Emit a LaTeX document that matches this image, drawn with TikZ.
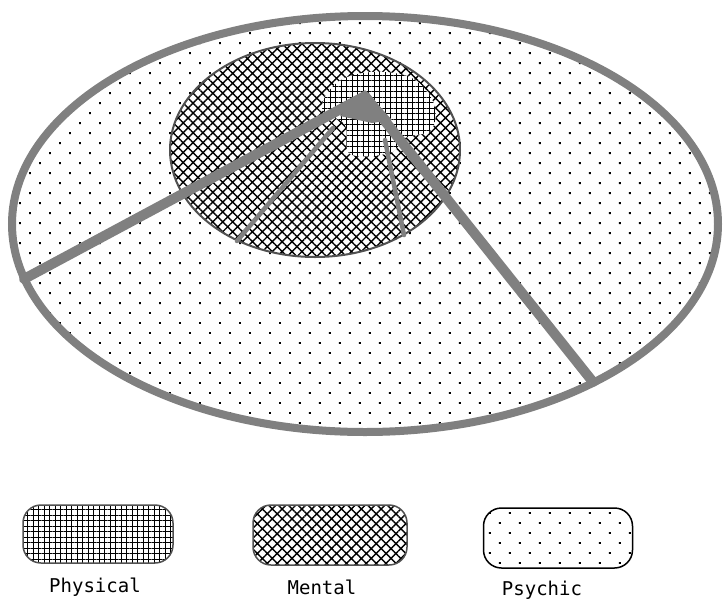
\documentclass[tikz,border=0pt]{standalone}
\usepackage{fontspec}
\newfontfamily\lblfont{DejaVu Sans Mono}
\usetikzlibrary{patterns.meta}
\definecolor{lg}{RGB}{128,128,128}
\definecolor{dg}{RGB}{80,80,80}
\tikzset{
  psychicfill/.style={pattern={Dots[distance=14.14pt,angle=45,radius=1.35pt]},pattern color=black},
  mentalfill/.style={pattern={Hatch[angle=45,distance=7pt,line width=1.4pt]},pattern color=black},
  physfill/.style={pattern={Hatch[angle=0,distance=5.5pt,line width=0.9pt]},pattern color=black},
  thickline/.style={draw=lg,line width=10pt,line cap=round},
  thinline/.style={draw=lg,line width=4.5pt,line cap=round},
  legendbox/.style={draw=dg,line width=1.5pt,rounded corners=18pt,minimum width=150pt,minimum height=58pt,inner sep=0pt},
  legendlabel/.style={font=\lblfont\fontsize{19}{21}\selectfont,text=black,inner sep=0pt}
}
\begin{document}
\begin{tikzpicture}[x=1pt,y=-1pt]
\fill[white] (0,0) rectangle (726,603);
\useasboundingbox (0,0) rectangle (726,603);
% outer psychic ellipse
\path[psychicfill] (365,224) ellipse [x radius=353, y radius=208];
% mental circle
\fill[white] (315,150) ellipse [x radius=145, y radius=107];
\path[mentalfill,draw=dg,line width=2pt] (315,150) ellipse [x radius=145, y radius=107];
% physical blob
\fill[white] plot[smooth cycle,tension=0.6] coordinates {(322,108) (338,82) (372,72) (412,78) (434,104) (431,130) (405,138) (390,153) (350,154) (345,125)};
\path[physfill] plot[smooth cycle,tension=0.6] coordinates {(322,108) (338,82) (372,72) (412,78) (434,104) (431,130) (405,138) (390,153) (350,154) (345,125)};
% named points
\coordinate (apex) at (365,96);
\coordinate (leftend) at (24,279);
\coordinate (rightend) at (593,382);
\coordinate (t3a) at (333,128);
\coordinate (t3b) at (237,241);
\coordinate (t4a) at (385,140);
\coordinate (t4b) at (404,235);
% thin lines
\draw[thinline] (t3a) -- (t3b);
\draw[thinline] (t4a) -- (t4b);
% apex wedge
\fill[lg] (340,116) -- (365,90) -- (392,120) -- (372,123) -- cycle;
% thick lines
\draw[thickline] (apex) -- (leftend);
\draw[thickline] (apex) -- (rightend);
% outer outline
\draw[lg,line width=8pt] (365,224) ellipse [x radius=353, y radius=208];
% legend
\node[legendbox,physfill,minimum width=150pt,minimum height=58pt] (physbox) at (98,534) {};
\node[legendbox,mentalfill,minimum width=154pt,minimum height=60pt] (mentbox) at (330,535) {};
\node[legendbox,psychicfill,draw=black,minimum width=149pt,minimum height=60pt] (psybox) at (558,538) {};
\node[legendlabel] (physlbl) at (95,587) {Physical};
\node[legendlabel] (mentlbl) at (322,587) {Mental};
\node[legendlabel] (psylbl) at (542,590) {Psychic};
\end{tikzpicture}
\end{document}
